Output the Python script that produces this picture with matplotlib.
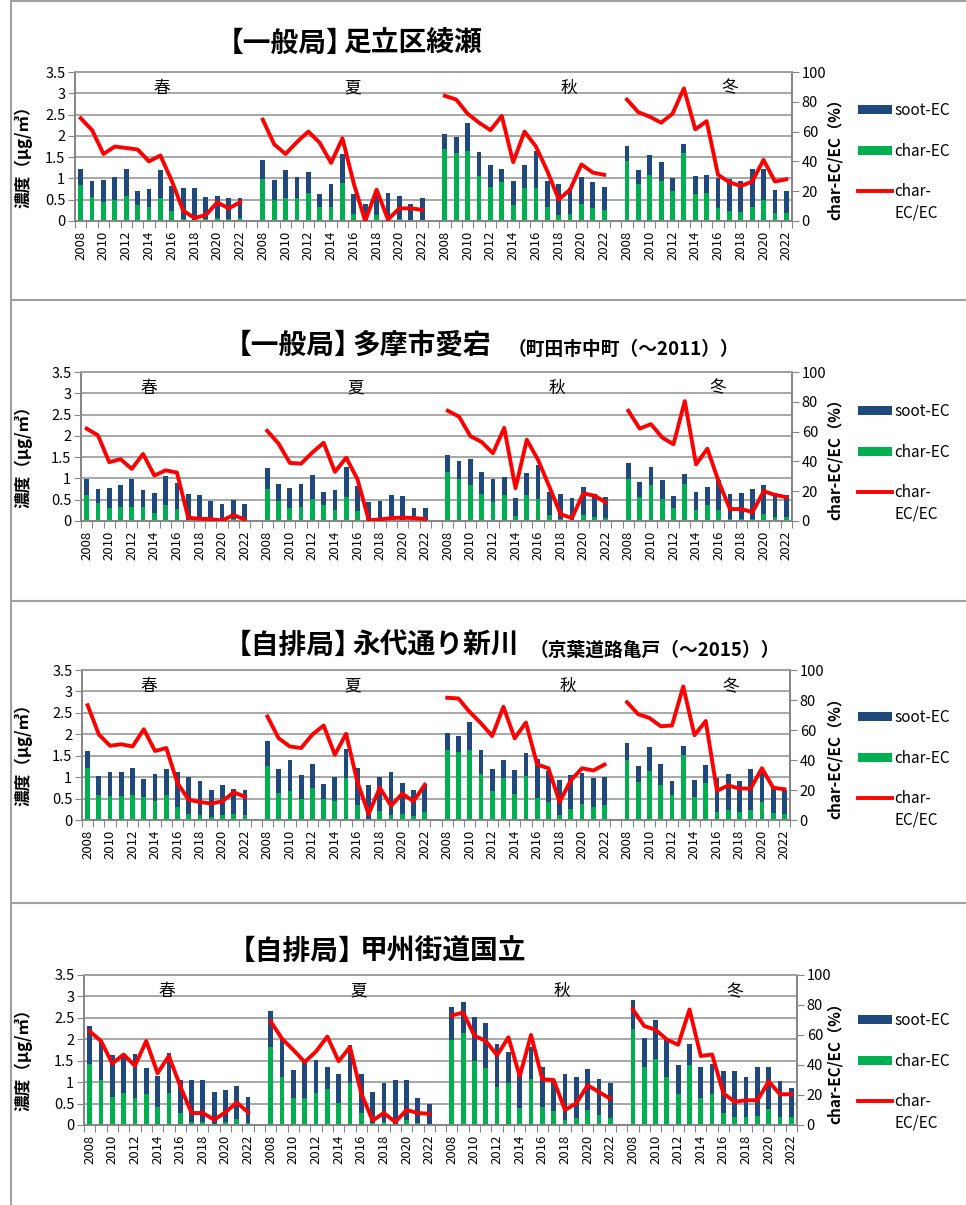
"""PM2.5 炭素成分 (char-EC / soot-EC) の季節別経年変化"""

import numpy as np
import matplotlib
matplotlib.use("Agg")
import matplotlib.pyplot as plt
from matplotlib.patches import Patch
from matplotlib.lines import Line2D
from matplotlib.ticker import FormatStrFormatter

plt.rcParams['font.family'] = ['Noto Sans CJK JP', 'DejaVu Sans']

W, H = 966, 1205

years = list(range(2008, 2023))
seasons = ["春", "夏", "秋", "冬"]

SOOT_C = "#1F497D"
CHAR_C = "#00B050"
RATIO_C = "#FF0000"
GRID_C = "#A0A0A0"
AXIS_C = "#868686"

# 【一般局】足立区綾瀬  (EC total, char-EC [ug/m3], char-EC/EC [%])  rows: 春 夏 秋 冬
ayase_ec = [
    [1.22, 0.94, 0.96, 1.03, 1.21, 0.70, 0.75, 1.20, 0.83, 0.77, 0.77, 0.56, 0.58, 0.53, 0.53],
    [1.44, 0.96, 1.19, 1.03, 1.15, 0.63, 0.87, 1.57, 0.63, 0.41, 0.63, 0.65, 0.59, 0.41, 0.53],
    [2.04, 1.97, 2.30, 1.61, 1.31, 1.23, 0.95, 1.32, 1.64, 0.95, 0.86, 0.77, 1.03, 0.92, 0.81],
    [1.77, 1.19, 1.56, 1.38, 1.00, 1.81, 1.05, 1.09, 1.02, 0.98, 0.95, 1.23, 1.21, 0.72, 0.70],
]
ayase_char = [
    [0.84, 0.56, 0.44, 0.50, 0.58, 0.38, 0.32, 0.53, 0.23, 0.05, 0.02, 0.04, 0.07, 0.04, 0.06],
    [0.98, 0.49, 0.53, 0.54, 0.66, 0.32, 0.34, 0.89, 0.16, 0.00, 0.13, 0.02, 0.05, 0.03, 0.03],
    [1.70, 1.59, 1.64, 1.05, 0.79, 0.91, 0.37, 0.77, 0.77, 0.33, 0.13, 0.16, 0.39, 0.30, 0.25],
    [1.42, 0.87, 1.09, 0.93, 0.71, 1.59, 0.63, 0.66, 0.30, 0.24, 0.21, 0.32, 0.49, 0.19, 0.19],
]
ayase_ratio = [
    [69, 61, 45, 50, 49, 48, 40, 44, 27, 7, 2, 4, 12.5, 8.5, 12.5],
    [68, 51.5, 45, 53, 60, 52.5, 39, 55.5, 25, 0, 21, 1, 8.5, 8.5, 7.5],
    [84, 81.5, 72, 66, 61, 70.5, 39.5, 60, 50, 33.5, 14.5, 21, 38, 32.5, 31],
    [81.5, 73, 70, 66, 72, 89, 61.5, 67, 31, 26, 23.5, 26.5, 41, 26.5, 28],
]

# 【一般局】多摩市愛宕
atago_ec = [
    [0.99, 0.75, 0.77, 0.84, 0.98, 0.73, 0.65, 1.05, 0.89, 0.63, 0.61, 0.47, 0.39, 0.49, 0.41],
    [1.25, 0.88, 0.77, 0.86, 1.07, 0.69, 0.73, 1.27, 0.83, 0.44, 0.48, 0.62, 0.58, 0.31, 0.30],
    [1.55, 1.42, 1.45, 1.16, 0.98, 1.04, 0.55, 1.13, 1.31, 0.67, 0.64, 0.53, 0.81, 0.64, 0.57],
    [1.36, 0.91, 1.28, 0.96, 0.59, 1.10, 0.68, 0.80, 0.97, 0.64, 0.65, 0.74, 0.84, 0.65, 0.62],
]
atago_char = [
    [0.60, 0.43, 0.30, 0.33, 0.34, 0.32, 0.18, 0.37, 0.29, 0.02, 0.02, 0.02, 0.00, 0.04, 0.01],
    [0.75, 0.46, 0.30, 0.33, 0.52, 0.37, 0.25, 0.56, 0.23, 0.00, 0.02, 0.03, 0.03, 0.02, 0.01],
    [1.14, 0.98, 0.84, 0.63, 0.45, 0.62, 0.12, 0.60, 0.51, 0.14, 0.04, 0.02, 0.14, 0.09, 0.07],
    [0.98, 0.57, 0.84, 0.52, 0.30, 0.88, 0.27, 0.37, 0.27, 0.05, 0.05, 0.04, 0.16, 0.10, 0.09],
]
atago_ratio = [
    [62, 57.5, 39.5, 41.5, 35, 45, 30.5, 34, 32.5, 2.2, 1.5, 1.3, 0.3, 4, 1],
    [60.5, 52, 39, 38.5, 46, 52.5, 33, 42.5, 28, 0.5, 1, 2, 2.2, 2, 1.3],
    [74, 70, 57, 53, 45.5, 62.5, 22, 54.5, 41, 23, 4.5, 2, 18.5, 17, 12.5],
    [74, 62, 65, 56, 51.5, 80.5, 38, 48.5, 26.5, 8, 8, 6, 20, 17.5, 16],
]

# 【自排局】永代通り新川
shinkawa_ec = [
    [1.61, 1.03, 1.11, 1.11, 1.22, 0.96, 1.08, 1.20, 1.12, 1.01, 0.91, 0.71, 0.81, 0.73, 0.69],
    [1.84, 1.18, 1.40, 1.04, 1.30, 0.83, 1.00, 1.65, 1.22, 0.81, 1.01, 1.12, 0.87, 0.69, 0.82],
    [2.03, 1.96, 2.29, 1.64, 1.19, 1.40, 1.16, 1.57, 1.43, 1.15, 0.93, 1.04, 1.10, 0.97, 1.00],
    [1.79, 1.26, 1.71, 1.30, 0.91, 1.73, 0.94, 1.28, 0.97, 1.08, 0.92, 1.18, 1.12, 0.75, 0.71],
]
shinkawa_char = [
    [1.21, 0.58, 0.55, 0.55, 0.58, 0.53, 0.45, 0.58, 0.30, 0.14, 0.11, 0.07, 0.11, 0.14, 0.11],
    [1.26, 0.63, 0.68, 0.48, 0.74, 0.49, 0.44, 0.98, 0.34, 0.03, 0.21, 0.12, 0.15, 0.09, 0.19],
    [1.64, 1.59, 1.64, 1.08, 0.68, 0.98, 0.61, 1.03, 0.51, 0.41, 0.11, 0.26, 0.37, 0.31, 0.36],
    [1.40, 0.89, 1.15, 0.81, 0.58, 1.52, 0.53, 0.86, 0.19, 0.24, 0.19, 0.24, 0.41, 0.16, 0.15],
]
shinkawa_ratio = [
    [76.5, 57, 49.5, 50.5, 49, 60.5, 46, 48, 24.5, 13.5, 12, 11, 12.5, 18.5, 15.5],
    [69, 54.5, 49, 48, 57, 63, 43.5, 57.5, 25.5, 4, 21.5, 9.5, 17.5, 12.5, 23.5],
    [81.5, 81, 72, 64.5, 56, 75.5, 54.5, 65, 37, 34.5, 12, 26.5, 34.5, 33, 37],
    [78.5, 70.5, 68, 62.5, 63, 89, 56.5, 66, 19.5, 23, 21, 21, 34.5, 21.5, 20.5],
]

# 【自排局】甲州街道国立
kunitachi_ec = [
    [2.31, 1.96, 1.63, 1.59, 1.66, 1.34, 1.15, 1.67, 1.06, 1.04, 1.04, 0.76, 0.82, 0.90, 0.66],
    [2.67, 2.00, 1.29, 1.47, 1.51, 1.35, 1.18, 1.86, 1.19, 0.77, 0.98, 1.04, 1.06, 0.63, 0.50],
    [2.75, 2.87, 2.52, 2.39, 1.89, 1.71, 1.16, 1.82, 1.36, 1.00, 1.18, 1.11, 1.30, 1.07, 0.97],
    [2.92, 2.04, 2.45, 2.00, 1.41, 1.90, 1.35, 1.42, 1.26, 1.27, 1.13, 1.35, 1.35, 1.02, 0.87],
]
kunitachi_char = [
    [1.43, 1.04, 0.66, 0.74, 0.64, 0.72, 0.41, 0.74, 0.27, 0.07, 0.08, 0.02, 0.07, 0.13, 0.05],
    [1.82, 1.11, 0.63, 0.63, 0.74, 0.83, 0.51, 0.97, 0.27, 0.04, 0.08, 0.02, 0.11, 0.04, 0.03],
    [1.99, 2.14, 1.49, 1.33, 0.88, 0.97, 0.39, 1.08, 0.43, 0.32, 0.12, 0.16, 0.34, 0.23, 0.16],
    [2.23, 1.35, 1.55, 1.11, 0.72, 1.39, 0.63, 0.72, 0.27, 0.19, 0.18, 0.22, 0.37, 0.19, 0.18],
]
kunitachi_ratio = [
    [62.5, 56, 41, 47, 39.5, 56, 34.5, 46, 26, 8, 8, 3.5, 8.5, 15, 8.5],
    [69, 57.5, 50, 42, 49, 59, 42.5, 52, 21, 3, 8, 2, 10, 8, 7.5],
    [73, 75, 59.5, 56, 46.5, 58.5, 32.5, 60, 30.5, 30, 10, 14.5, 26.5, 22, 17.5],
    [77, 66, 63.5, 57, 53.5, 77, 46, 47, 21, 15.5, 16.5, 16.5, 29, 20.5, 20.5],
]


def fig_rect(left, top, right, bottom):
    # pixel box -> figure fraction
    return [left / W, 1 - bottom / H, (right - left) / W, (bottom - top) / H]


def fig_text(fig, x, y, s, **kw):
    return fig.text(x / W, 1 - y / H, s, va='center', **kw)


def draw_station(fig, box, ec, char, ratio, season_x, legend_top):
    left, top, right, bottom = box
    ax = fig.add_axes(fig_rect(*box))
    ax2 = ax.twinx()

    for s in range(4):
        x = 16 * s + np.arange(len(years))
        c = np.array(char[s])
        soot = np.array(ec[s]) - c
        ax.bar(x, c, width=0.42, color=CHAR_C, zorder=2)
        ax.bar(x, soot, bottom=c, width=0.42, color=SOOT_C, zorder=2)
        ax2.plot(x, ratio[s], color=RATIO_C, lw=2.8, zorder=3)
        ax.text(season_x[s], 3.12, seasons[s], ha='center', va='center', fontsize=12)

    # category axis: 15 years per season, one empty slot between seasons
    ax.set_xlim(-0.5, 62.5)
    ax.set_xticks(np.arange(-0.5, 63, 1))
    ax.set_xticklabels([])
    lab_pos = [16 * s + i for s in range(4) for i in range(0, 15, 2)]
    ax.set_xticks(lab_pos, minor=True)
    ax.set_xticklabels([str(years[p % 16]) for p in lab_pos], minor=True,
                       rotation=90, fontsize=9.5)
    ax.tick_params(axis='x', which='major', length=5, color=AXIS_C, direction='out')
    ax.tick_params(axis='x', which='minor', length=0, pad=7)

    ax.set_ylim(0, 3.5)
    ax.set_yticks(np.arange(0, 3.51, 0.5))
    ax.yaxis.set_major_formatter(FormatStrFormatter('%g'))
    ax.tick_params(axis='y', length=5, color=AXIS_C, labelsize=10.5, pad=2)
    ax.grid(axis='y', color=GRID_C, lw=1.3)
    ax.set_axisbelow(True)

    ax2.set_ylim(0, 100)
    ax2.set_yticks(range(0, 101, 20))
    ax2.tick_params(axis='y', length=5, color=AXIS_C, labelsize=10.5, pad=2)

    for a in (ax, ax2):
        for side in ('left', 'right', 'bottom', 'top'):
            a.spines[side].set_color(AXIS_C if side != 'top' else GRID_C)
            a.spines[side].set_linewidth(1.3)

    span = right - left
    ax.set_ylabel('濃度（μg/㎥）', fontsize=12, fontweight='bold')
    ax.yaxis.set_label_coords((33 - left) / span, 0.46)
    ax2.set_ylabel('char-EC/EC（%）', fontsize=11, fontweight='bold')
    ax2.yaxis.set_label_coords((827 - left) / span, 0.44)

    handles = [Patch(facecolor=SOOT_C), Patch(facecolor=CHAR_C),
               Line2D([], [], color=RATIO_C, lw=2.8)]
    leg = ax2.legend(handles, ['soot-EC', 'char-EC', 'char-'],
                     loc='upper left', bbox_to_anchor=(858 / W, 1 - legend_top / H),
                     bbox_transform=fig.transFigure, frameon=False, fontsize=11,
                     handlelength=2.2, handleheight=0.52, handletextpad=0.2,
                     labelspacing=1.55, borderpad=0, borderaxespad=0)
    return leg


def draw_title(fig, x_bracket, x_name, y, tag, name):
    fig_text(fig, x_bracket, y, tag, fontsize=20, fontweight='bold', ha='left')
    fig_text(fig, x_name, y, name, fontsize=20, fontweight='bold', ha='left')


def main():
    fig = plt.figure(figsize=(W / 100, H / 100), dpi=100)

    # frame lines around the stacked charts
    for y in (1, 300, 601, 903):
        fig.add_artist(Line2D([11 / W, 1], [1 - y / H, 1 - y / H],
                              transform=fig.transFigure, color='#A0A0A0', lw=1.5))
    fig.add_artist(Line2D([11 / W, 11 / W], [0, 1], transform=fig.transFigure,
                          color='#A0A0A0', lw=1.5))

    legends = []
    legends.append(draw_station(fig, (75, 72, 792, 221), ayase_ec, ayase_char,
                                ayase_ratio, [7.1, 23.9, 42.9, 57.0], 102))
    draw_title(fig, 216, 343, 44, '【一般局】', '足立区綾瀬')

    legends.append(draw_station(fig, (81, 372, 792, 521), atago_ec, atago_char,
                                atago_ratio, [5.5, 23.8, 41.7, 55.9], 403))
    draw_title(fig, 224, 353, 346, '【一般局】', '多摩市愛宕')
    fig_text(fig, 508, 349, '（町田市中町（～2011））', fontsize=13.5,
             fontweight='bold', ha='left')

    legends.append(draw_station(fig, (82, 670, 790, 820), shinkawa_ec, shinkawa_char,
                                shinkawa_ratio, [5.4, 23.6, 42.7, 57.2], 709))
    draw_title(fig, 224, 352, 646, '【自排局】', '永代通り新川')
    fig_text(fig, 530, 650, '（京葉道路亀戸（～2015））', fontsize=13.5,
             fontweight='bold', ha='left')

    legends.append(draw_station(fig, (84, 975, 797, 1125), kunitachi_ec, kunitachi_char,
                                kunitachi_ratio, [6.8, 23.8, 41.7, 57.0], 1012))
    draw_title(fig, 228, 360, 952, '【自排局】', '甲州街道国立')

    # wrapped second line of the ratio legend entry, placed under "char-"
    fig.canvas.draw()
    for leg in legends:
        bb = leg.get_texts()[2].get_window_extent()
        fig.text(bb.x0 / W, ((bb.y0 + bb.y1) / 2 - 21) / H, 'EC/EC',
                 fontsize=11, ha='left', va='center')

    fig.savefig('out.png', dpi=100)


if __name__ == "__main__":
    main()
